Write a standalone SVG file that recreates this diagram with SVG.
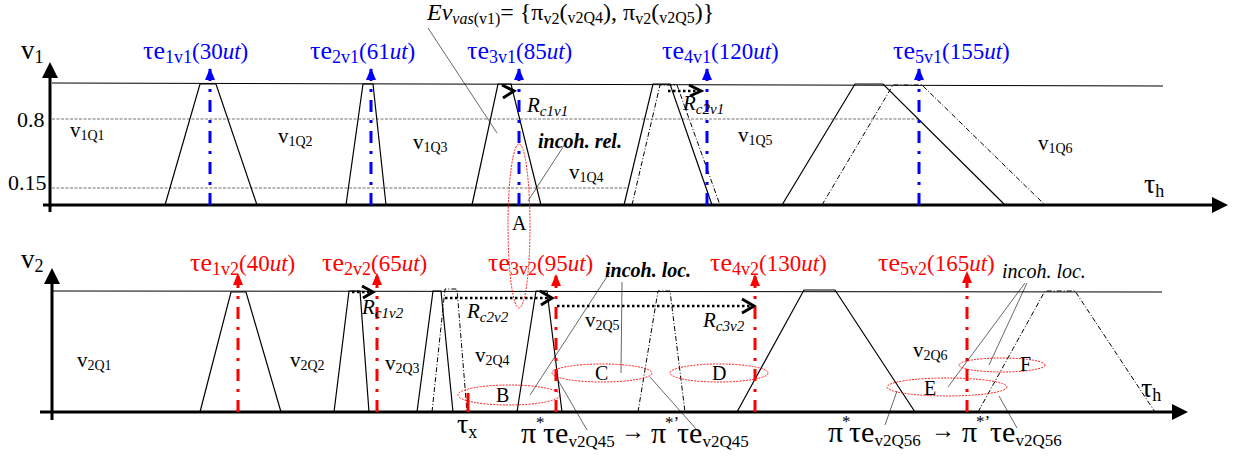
<svg xmlns="http://www.w3.org/2000/svg" width="1239" height="456" viewBox="0 0 1239 456" font-family="Liberation Serif, serif">
<style>
.ax{stroke:#000;stroke-width:3;fill:none}
.lvl{stroke:#000;stroke-width:1;fill:none}
.gl{stroke:#333;stroke-width:0.7;stroke-dasharray:3,1.5;fill:none}
.tr{stroke:#000;stroke-width:1.2;fill:none}
.dd{stroke:#000;stroke-width:1;stroke-dasharray:5,2,1,2;fill:none}
.bev{stroke:#0000ff;stroke-width:3;stroke-dasharray:12,8,3,8;fill:none}
.rev{stroke:#ff0000;stroke-width:3;stroke-dasharray:12,8,3,8;fill:none}
.ell{fill:none;stroke:#ff0000;stroke-width:0.9;stroke-dasharray:2,1.2}
.ptr{stroke:#000;stroke-width:0.6;fill:none}
.rc{stroke:#000;stroke-width:3;fill:none}
.rcd{stroke:#000;stroke-width:2.5;stroke-dasharray:2.5,2.5;fill:none}
.blue{fill:#0000ff}
.red{fill:#ff0000}
.ev{font-size:23px}
.reg{font-size:21px}
.big{font-size:30px}
.sup{font-size:17px}
</style>
<defs>
<marker id="ahB" markerUnits="userSpaceOnUse" viewBox="0 0 12 10" refX="11" refY="5" markerWidth="12" markerHeight="10" orient="auto"><path d="M0,0 L12,5 L0,10 Z" fill="#0000ff"/></marker>
<marker id="ahR" markerUnits="userSpaceOnUse" viewBox="0 0 12 10" refX="11" refY="5" markerWidth="12" markerHeight="10" orient="auto"><path d="M0,0 L12,5 L0,10 Z" fill="#ff0000"/></marker>
</defs>

<g id="axes">
<line class="ax" x1="50" y1="212" x2="50" y2="76"/>
<polygon points="42,78 50,62 58,78" fill="#000"/>
<line class="ax" x1="43" y1="205" x2="1213" y2="205"/>
<polygon points="1212,197 1228,205 1212,213" fill="#000"/>
<line class="ax" x1="52" y1="420" x2="52" y2="282"/>
<polygon points="44,284 52,268 60,284" fill="#000"/>
<line class="ax" x1="40" y1="412" x2="1173" y2="412"/>
<polygon points="1172,404 1188,412 1172,420" fill="#000"/>
<line class="lvl" x1="52" y1="83" x2="1163" y2="86"/>
<line class="gl" x1="52" y1="119" x2="920" y2="119"/>
<line class="gl" x1="52" y1="188" x2="628" y2="188"/>
<line class="lvl" x1="53" y1="291" x2="1162" y2="292"/>
</g>

<g id="axis-labels" font-family="Liberation Serif, serif">
<text x="21" y="59" font-size="27">v<tspan font-size="18" dy="4">1</tspan></text>
<text x="21" y="268" font-size="27">v<tspan font-size="18" dy="4">2</tspan></text>
<text x="17" y="127" font-size="22">0.8</text>
<text x="8" y="190" font-size="22">0.15</text>
<text x="1144" y="193" font-size="28">τ<tspan font-size="18" dy="4">h</tspan></text>
<text x="1141" y="397" font-size="28">τ<tspan font-size="18" dy="4">h</tspan></text>
</g>

<g id="v1-profiles">
<path class="tr" d="M165,205 L200,84 L216,84 L257,205"/>
<path class="tr" d="M346,205 L363,84 L373,84 L386,205"/>
<path class="tr" d="M472,205 L498,84 L511,84 L541,205"/>
<path class="tr" d="M624,205 L653,84 L670,84 L712,205"/>
<path class="dd" d="M632,205 L660,85 L677,85 L720,205"/>
<path class="tr" d="M782,205 L855,84 L883,84 L1005,205"/>
<path class="dd" d="M822,205 L893,85 L922,85 L1045,205"/>
</g>

<g id="v2-profiles">
<path class="tr" d="M200,412 L231,292 L246,292 L281,412"/>
<path class="tr" d="M334,412 L349,291 L360,291 L369,412"/>
<path class="tr" d="M417,412 L433,291 L441,291 L453,412"/>
<path class="dd" d="M432,412 L445,289 L457,289 L467,412"/>
<path class="tr" d="M517,412 L536,291 L547,291 L562,412"/>
<path class="dd" d="M638,412 L658,291 L670,291 L685,412"/>
<path class="tr" d="M737,412 L804,290 L835,290 L915,412"/>
<path class="dd" d="M978,412 L1045,291 L1075,291 L1155,412"/>
</g>

<g id="region-labels" class="reg" font-family="Liberation Serif, serif">
<text x="70" y="137">v<tspan font-size="14" dy="3">1Q1</tspan></text>
<text x="278" y="143">v<tspan font-size="14" dy="3">1Q2</tspan></text>
<text x="413" y="149">v<tspan font-size="14" dy="3">1Q3</tspan></text>
<text x="569" y="179">v<tspan font-size="14" dy="3">1Q4</tspan></text>
<text x="738" y="142">v<tspan font-size="14" dy="3">1Q5</tspan></text>
<text x="1038" y="150">v<tspan font-size="14" dy="3">1Q6</tspan></text>
<text x="77" y="367">v<tspan font-size="14" dy="3">2Q1</tspan></text>
<text x="290" y="367">v<tspan font-size="14" dy="3">2Q2</tspan></text>
<text x="385" y="370">v<tspan font-size="14" dy="3">2Q3</tspan></text>
<text x="475" y="362">v<tspan font-size="14" dy="3">2Q4</tspan></text>
<text x="585" y="327">v<tspan font-size="14" dy="3">2Q5</tspan></text>
<text x="913" y="357">v<tspan font-size="14" dy="3">2Q6</tspan></text>
</g>

<g id="events-v1" font-family="Liberation Serif, serif">
<line class="bev" x1="210" y1="205" x2="210" y2="69" marker-end="url(#ahB)"/>
<line class="bev" x1="371" y1="205" x2="371" y2="69" marker-end="url(#ahB)"/>
<line class="bev" x1="519" y1="205" x2="519" y2="69" marker-end="url(#ahB)"/>
<line class="bev" x1="707" y1="205" x2="707" y2="69" marker-end="url(#ahB)"/>
<line class="bev" x1="919" y1="205" x2="919" y2="69" marker-end="url(#ahB)"/>
<text class="ev blue" x="143" y="59"><tspan font-size="26">τe</tspan><tspan font-size="18" dy="4">1v1</tspan><tspan dy="-4">(30</tspan><tspan font-style="italic">ut</tspan>)</text>
<text class="ev blue" x="310" y="59"><tspan font-size="26">τe</tspan><tspan font-size="18" dy="4">2v1</tspan><tspan dy="-4">(61</tspan><tspan font-style="italic">ut</tspan>)</text>
<text class="ev blue" x="467" y="59"><tspan font-size="26">τe</tspan><tspan font-size="18" dy="4">3v1</tspan><tspan dy="-4">(85</tspan><tspan font-style="italic">ut</tspan>)</text>
<text class="ev blue" x="662" y="59"><tspan font-size="26">τe</tspan><tspan font-size="18" dy="4">4v1</tspan><tspan dy="-4">(120</tspan><tspan font-style="italic">ut</tspan>)</text>
<text class="ev blue" x="893" y="59"><tspan font-size="26">τe</tspan><tspan font-size="18" dy="4">5v1</tspan><tspan dy="-4">(155</tspan><tspan font-style="italic">ut</tspan>)</text>
</g>

<g id="events-v2" font-family="Liberation Serif, serif">
<line class="rev" x1="238" y1="412" x2="238" y2="274" marker-end="url(#ahR)"/>
<line class="rev" x1="377" y1="412" x2="377" y2="274" marker-end="url(#ahR)"/>
<line class="rev" x1="556" y1="412" x2="556" y2="275" marker-end="url(#ahR)"/>
<line class="rev" x1="755" y1="412" x2="755" y2="275" marker-end="url(#ahR)"/>
<line class="rev" x1="967" y1="412" x2="967" y2="272" marker-end="url(#ahR)"/>
<line x1="468" y1="393" x2="468" y2="412" stroke="#ff0000" stroke-width="3"/>
<text class="ev red" x="190" y="271"><tspan font-size="26">τe</tspan><tspan font-size="18" dy="4">1v2</tspan><tspan dy="-4">(40</tspan><tspan font-style="italic">ut</tspan>)</text>
<text class="ev red" x="322" y="271"><tspan font-size="26">τe</tspan><tspan font-size="18" dy="4">2v2</tspan><tspan dy="-4">(65</tspan><tspan font-style="italic">ut</tspan>)</text>
<text class="ev red" x="488" y="271"><tspan font-size="26">τe</tspan><tspan font-size="18" dy="4">3v2</tspan><tspan dy="-4">(95</tspan><tspan font-style="italic">ut</tspan>)</text>
<text class="ev red" x="710" y="271"><tspan font-size="26">τe</tspan><tspan font-size="18" dy="4">4v2</tspan><tspan dy="-4">(130</tspan><tspan font-style="italic">ut</tspan>)</text>
<text class="ev red" x="878" y="271"><tspan font-size="26">τe</tspan><tspan font-size="18" dy="4">5v2</tspan><tspan dy="-4">(165</tspan><tspan font-style="italic">ut</tspan>)</text>
</g>

<g id="connectors">
<polyline class="rc" points="502,85 514,91 503,98"/>
<line class="rcd" x1="668" y1="91" x2="698" y2="91"/>
<polyline class="rc" points="689,85 701,91 690,96"/>
<line class="rcd" x1="352" y1="292" x2="370" y2="292"/>
<polyline class="rc" points="362,286 373,292 363,298"/>
<line class="rcd" x1="445" y1="298" x2="550" y2="298"/>
<polyline class="rc" points="540,291 552,298 541,305"/>
<line class="rcd" x1="557" y1="306" x2="751" y2="306"/>
<polyline class="rc" points="742,299 754,306 742,313"/>
<line class="ptr" x1="428" y1="28" x2="497" y2="133"/>
<line class="ptr" x1="565" y1="144" x2="528" y2="201"/>
<line class="ptr" x1="610" y1="272" x2="530" y2="395"/>
<line class="ptr" x1="622" y1="282" x2="621" y2="373"/>
<line class="ptr" x1="1025" y1="283" x2="948" y2="387"/>
<line class="ptr" x1="1027" y1="283" x2="989" y2="365"/>
<line class="ptr" x1="587" y1="430" x2="558" y2="380"/>
<line class="ptr" x1="697" y1="430" x2="650" y2="377"/>
<line class="ptr" x1="885" y1="425" x2="897" y2="391"/>
<line class="ptr" x1="1017" y1="428" x2="999" y2="396"/>
</g>

<g id="rc-labels" font-style="italic" font-family="Liberation Serif, serif">
<text x="527" y="112" font-size="21">R<tspan font-size="15" dy="4">c1v1</tspan></text>
<text x="683" y="110" font-size="21">R<tspan font-size="15" dy="4">c2v1</tspan></text>
<text x="362" y="314" font-size="21">R<tspan font-size="15" dy="4">c1v2</tspan></text>
<text x="467" y="318" font-size="21">R<tspan font-size="15" dy="4">c2v2</tspan></text>
<text x="703" y="327" font-size="21">R<tspan font-size="15" dy="4">c3v2</tspan></text>
</g>

<g id="incoherences" font-family="Liberation Serif, serif">
<ellipse class="ell" cx="519" cy="226" rx="11" ry="82"/>
<ellipse class="ell" cx="509" cy="395" rx="51" ry="10"/>
<ellipse class="ell" cx="602" cy="373" rx="50" ry="9"/>
<ellipse class="ell" cx="719" cy="373" rx="49" ry="9"/>
<ellipse class="ell" cx="947" cy="387" rx="60" ry="9"/>
<ellipse class="ell" cx="1002" cy="365" rx="43" ry="7"/>
<text x="512" y="230" font-size="20">A</text>
<text x="496" y="402" font-size="20">B</text>
<text x="595" y="380" font-size="20">C</text>
<text x="712" y="380" font-size="20">D</text>
<text x="924" y="395" font-size="20">E</text>
<text x="1020" y="371" font-size="20">F</text>
<text x="538" y="148" font-size="20" font-weight="bold" font-style="italic">incoh. rel.</text>
<text x="605" y="277" font-size="20" font-weight="bold" font-style="italic">incoh. loc.</text>
<text x="1002" y="278" font-size="20" font-style="italic">incoh. loc.</text>
</g>

<g id="title" font-family="Liberation Serif, serif">
<text x="427" y="20" font-size="24"><tspan font-style="italic">Ev</tspan><tspan font-size="16" dy="4" font-style="italic">vas</tspan><tspan font-size="16">(v1)</tspan><tspan dy="-4">= {π</tspan><tspan font-size="16" dy="4">v2</tspan><tspan dy="-4">(</tspan><tspan font-size="16" dy="3">v2Q4</tspan><tspan dy="-3">), π</tspan><tspan font-size="16" dy="4">v2</tspan><tspan dy="-4">(</tspan><tspan font-size="16" dy="3">v2Q5</tspan><tspan dy="-3">)}</tspan></text>
</g>

<g id="bottom-labels" font-family="Liberation Serif, serif">
<text x="457" y="433" font-size="28">τ<tspan font-size="18" dy="5">x</tspan></text>
<text class="big" x="521" y="443">π</text>
<text class="sup" x="536" y="428">*</text>
<text class="big" x="543" y="443">τe<tspan font-size="17" dy="4">v2Q45</tspan></text>
<text x="621" y="439" font-size="24" font-weight="bold">→</text>
<text class="big" x="651" y="443">π</text>
<text class="sup" x="665" y="428">*’</text>
<text class="big" x="677" y="443">τe<tspan font-size="17" dy="4">v2Q45</tspan></text>
<text class="big" x="828" y="442">π</text>
<text class="sup" x="842" y="427">*</text>
<text class="big" x="849" y="442">τe<tspan font-size="17" dy="4">v2Q56</tspan></text>
<text x="931" y="438" font-size="24" font-weight="bold">→</text>
<text class="big" x="962" y="442">π</text>
<text class="sup" x="976" y="427">*’</text>
<text class="big" x="990" y="442">τe<tspan font-size="17" dy="4">v2Q56</tspan></text>
</g>
</svg>
